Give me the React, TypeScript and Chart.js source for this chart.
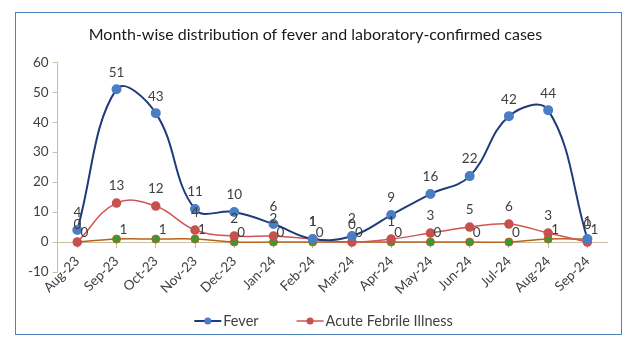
import React, { useEffect, useRef } from "react";
import { Chart, registerables } from "chart.js";

Chart.register(...registerables);

const months = ["Aug-23", "Sep-23", "Oct-23", "Nov-23", "Dec-23", "Jan-24", "Feb-24", "Mar-24", "Apr-24", "May-24", "Jun-24", "Jul-24", "Aug-24", "Sep-24"];
const feverCases = [4, 51, 43, 11, 10, 6, 1, 2, 9, 16, 22, 42, 44, 1];
const afiCases = [0, 13, 12, 4, 2, 2, 1, 0, 1, 3, 5, 6, 3, 0];
const labConfirmedCases = [0, 1, 1, 1, 0, 0, 0, 0, 0, 0, 0, 0, 1, 1];
const yMin = -10;
const yMax = 60;
const yStep = 10;

const FONT = "Lato, 'Open Sans', sans-serif";
const TEXT = "#404040";
const AXIS = "#C8BF9E";

const labelOffsets: [number, number][] = [
  [0, -17],
  [0, -17],
  [7, -9],
];

const valueLabels = {
  id: "valueLabels",
  afterDatasetsDraw(chart: any) {
    const ctx = chart.ctx;
    ctx.save();
    ctx.font = `13.5px ${FONT}`;
    ctx.fillStyle = TEXT;
    ctx.textAlign = "center";
    ctx.textBaseline = "middle";
    chart.data.datasets.forEach((ds: any, i: number) => {
      const meta = chart.getDatasetMeta(i);
      const [dx, dy] = labelOffsets[i];
      meta.data.forEach((pt: any, j: number) => {
        ctx.fillText(String(ds.data[j]), pt.x + dx, pt.y + dy);
      });
    });
    ctx.restore();
  },
};

const lineLegend = {
  id: "lineLegend",
  afterDraw(chart: any) {
    const ctx = chart.ctx;
    ctx.save();
    ctx.font = `14.5px ${FONT}`;
    ctx.textBaseline = "middle";
    const items = chart.data.datasets.filter((d: any) => !d.hideInLegend);
    const lineLen = 27;
    const gap = 2;
    const spacing = 38;
    const widths = items.map((d: any) => lineLen + gap + ctx.measureText(d.label).width);
    const total = widths.reduce((a: number, b: number) => a + b, 0) + spacing * (items.length - 1);
    let x = chart.width / 2 + 5 - total / 2;
    const y = chart.height - 13;
    items.forEach((d: any, i: number) => {
      ctx.strokeStyle = d.borderColor;
      ctx.lineWidth = d.borderWidth;
      ctx.beginPath();
      ctx.moveTo(x, y);
      ctx.lineTo(x + lineLen, y);
      ctx.stroke();
      ctx.fillStyle = d.pointBackgroundColor;
      ctx.beginPath();
      ctx.arc(x + lineLen / 2, y, 3.5, 0, Math.PI * 2);
      ctx.fill();
      ctx.fillStyle = TEXT;
      ctx.fillText(d.label, x + lineLen + gap, y);
      x += widths[i] + spacing;
    });
    ctx.restore();
  },
};

export default function App() {
  const ref = useRef<HTMLCanvasElement>(null);

  useEffect(() => {
    if (!ref.current) return;
    const chart = new Chart(ref.current, {
      type: "line",
      data: {
        labels: months,
        datasets: [
          {
            label: "Fever",
            data: feverCases,
            borderColor: "#1F3B7C",
            backgroundColor: "#4A7EC4",
            pointBackgroundColor: "#4A7EC4",
            pointBorderColor: "#4A7EC4",
            borderWidth: 2,
            pointRadius: 4,
            tension: 0.4,
          },
          {
            label: "Acute Febrile Illness",
            data: afiCases,
            borderColor: "#D05552",
            backgroundColor: "#C8504D",
            pointBackgroundColor: "#C8504D",
            pointBorderColor: "#C8504D",
            borderWidth: 1.5,
            pointRadius: 4,
            tension: 0.4,
          },
          {
            label: "Laboratory-confirmed",
            hideInLegend: true,
            data: labConfirmedCases,
            borderColor: "#B8621F",
            backgroundColor: "#3A9A32",
            pointBackgroundColor: "#3A9A32",
            pointBorderColor: "#B8621F",
            pointBorderWidth: 1,
            borderWidth: 1.5,
            pointRadius: 4,
            tension: 0.4,
          } as any,
        ],
      },
      options: {
        responsive: false,
        animation: false,
        layout: { padding: { left: 8, right: 14, top: 0, bottom: 62 } },
        plugins: {
          legend: { display: false },
          tooltip: { enabled: false },
          title: {
            display: true,
            text: "Month-wise distribution of fever and laboratory-confirmed cases",
            color: "#1a1a1a",
            font: { family: FONT, size: 16, weight: "normal" },
            padding: { top: 12, bottom: 18 },
          },
        },
        scales: {
          x: {
            type: "category",
            position: { y: 0 } as any,
            offset: true,
            grid: { display: true, drawOnChartArea: false, drawTicks: true, tickLength: 5, color: AXIS },
            border: { color: AXIS },
            ticks: { minRotation: 45, maxRotation: 45, color: TEXT, font: { family: FONT, size: 13.5 }, padding: 6 },
          },
          y: {
            min: yMin,
            max: yMax,
            grid: { display: true, drawOnChartArea: false, drawTicks: true, tickLength: 5, color: AXIS },
            border: { color: AXIS },
            ticks: { stepSize: yStep, color: TEXT, font: { family: FONT, size: 13.5 }, padding: 4 },
          },
        },
      },
      plugins: [valueLabels, lineLegend],
    });
    return () => chart.destroy();
  }, []);

  return (
    <div style={{ position: "absolute", left: 15, top: 12, width: 605, height: 321, border: "1px solid #4F81BD" }}>
      <canvas ref={ref} width={605} height={321} style={{ display: "block" }} />
    </div>
  );
}
